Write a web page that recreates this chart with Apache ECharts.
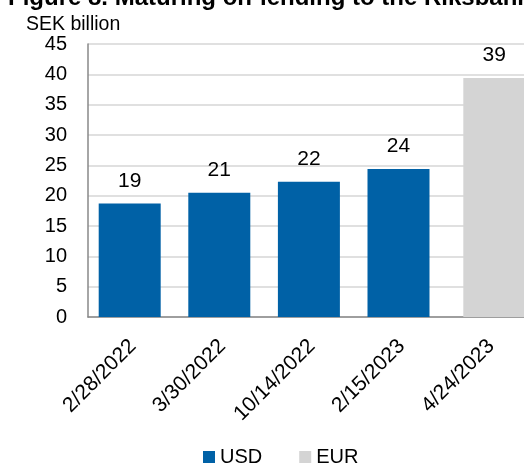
<!DOCTYPE html>
<html>
<head>
    <meta charset="utf-8">
    <title>Maturing on-lending to the Riksbank</title>
    <script src="https://cdn.jsdelivr.net/npm/echarts@6/dist/echarts.min.js"></script>
    <style>
        html, body { margin: 0; padding: 0; background: #fff; overflow: hidden; }
    </style>
</head>
<body>
    <!-- the original chart is cropped on the right, so the canvas is a bit wider than the window -->
    <div id="main" style="width: 540px;height:465px;"></div>
    <script type="text/javascript">
        // data
        var categories = ['2/28/2022', '3/30/2022', '10/14/2022', '2/15/2023', '4/24/2023'];
        var usdValues = [18.7, 20.5, 22.3, 24.4, '-'];
        var eurValues = ['-', '-', '-', '-', 39.4];
        var yTicks = { min: 0, max: 45, interval: 5 };

        var font = 'Liberation Sans, Arial, sans-serif';
        var myChart = echarts.init(document.getElementById('main'));

        var labelOpt = {
            show: true,
            position: 'top',
            distance: 12,
            fontSize: 21,
            fontFamily: font,
            color: '#000',
            formatter: function (p) { return Math.round(p.value); }
        };

        var option = {
            backgroundColor: '#fff',
            animation: false,
            textStyle: { fontFamily: font },
            graphic: [
                {
                    type: 'text', left: 8, top: -14,
                    style: { text: 'Figure 8. Maturing on-lending to the Riksbank', fontSize: 24, fontWeight: 'bold', fontFamily: font, fill: '#000' }
                },
                {
                    type: 'text', left: 26, top: 15,
                    style: { text: 'SEK billion', fontSize: 19.5, fontFamily: font, fill: '#000' }
                }
            ],
            legend: {
                data: ['USD', 'EUR'],
                left: 203,
                top: 447,
                padding: 0,
                icon: 'rect',
                itemWidth: 12,
                itemHeight: 12,
                itemGap: 37,
                textStyle: { fontSize: 20, fontFamily: font, color: '#000' }
            },
            grid: { left: 88, top: 44, width: 448, height: 273 },
            xAxis: {
                type: 'category',
                data: categories,
                axisLine: { lineStyle: { color: '#888', width: 1.5 } },
                axisTick: { show: false },
                axisLabel: { rotate: 45, margin: 26, fontSize: 21, fontFamily: font, color: '#000' }
            },
            yAxis: {
                type: 'value',
                min: yTicks.min,
                max: yTicks.max,
                interval: yTicks.interval,
                axisLine: { show: true, lineStyle: { color: '#888', width: 1.5 } },
                axisTick: { show: false },
                splitLine: { lineStyle: { color: '#d6d6d6', width: 1.5 } },
                axisLabel: { margin: 21, fontSize: 20, fontFamily: font, color: '#000' }
            },
            series: [
                {
                    name: 'USD', type: 'bar', data: usdValues,
                    barWidth: 62, barGap: '-90%',
                    itemStyle: { color: '#0061a6' },
                    label: labelOpt
                },
                {
                    name: 'EUR', type: 'bar', data: eurValues,
                    barWidth: 62,
                    itemStyle: { color: '#d4d4d4' },
                    label: labelOpt
                }
            ]
        };

        myChart.setOption(option);
    </script>
</body>
</html>
